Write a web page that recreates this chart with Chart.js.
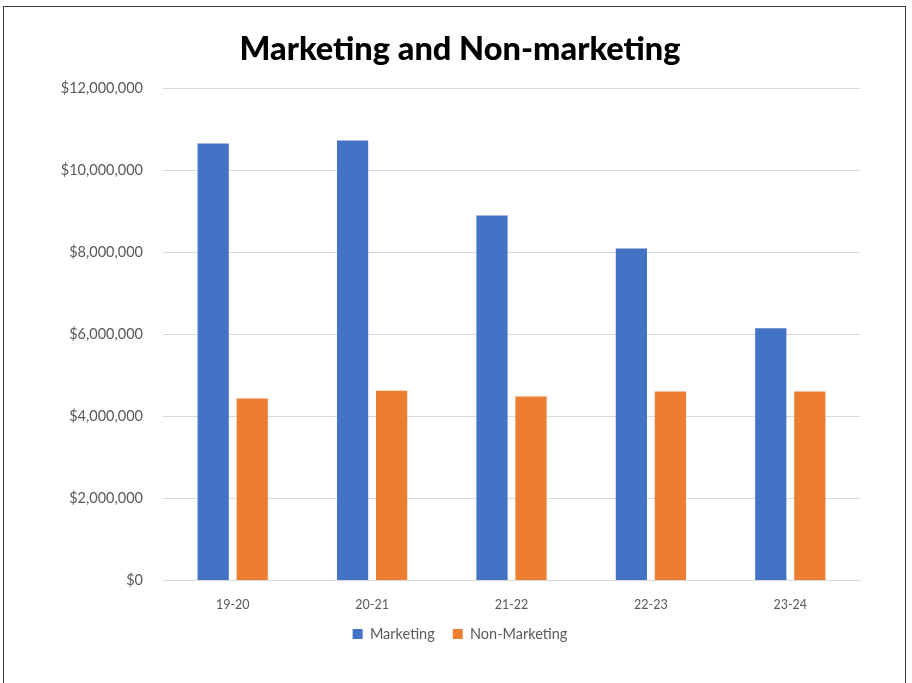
<!DOCTYPE html>
<html>
<head>
<meta charset="utf-8">
<script src="https://cdn.jsdelivr.net/npm/chart.js@4/dist/chart.umd.min.js"></script>
<style>
  html, body { margin: 0; padding: 0; background: #ffffff; }
  #wrap { position: relative; width: 912px; height: 683px; overflow: hidden; }
  #frame { position: absolute; left: 3px; top: 6px; width: 903px; height: 700px; border: 1.5px solid #3a3a3a; box-sizing: border-box; }
  canvas { position: absolute; left: 0; top: 0; }
</style>
</head>
<body>
<div id="wrap">
  <div id="frame"></div>
  <canvas id="c" width="912" height="683"></canvas>
</div>
<script>
const categories = ["19-20", "20-21", "21-22", "22-23", "23-24"];
const marketing = [10660000, 10730000, 8900000, 8100000, 6150000];
const nonMarketing = [4440000, 4630000, 4490000, 4610000, 4610000];
const yTicks = [0, 2000000, 4000000, 6000000, 8000000, 10000000, 12000000];
const titleText = "Marketing and Non-marketing";
const seriesNames = ["Marketing", "Non-Marketing"];

const textColor = "#595959";
const fontFamily = "Lato, 'Open Sans', sans-serif";
const legendFontSize = 14.5;
const legendCenterY = 634;

// Place the legend row at the reference's vertical position.
const legendPlacer = {
  id: "legendPlacer",
  afterLayout(chart) {
    const lg = chart.legend;
    if (!lg) return;
    const pad = lg.options.labels.padding;
    const itemH = Math.max(legendFontSize, lg.options.labels.boxHeight);
    const current = lg.top + pad + itemH / 2;
    const d = legendCenterY - current;
    lg.top += d;
    lg.bottom += d;
  }
};

new Chart(document.getElementById("c"), {
  type: "bar",
  data: {
    labels: categories,
    datasets: [
      { label: seriesNames[0], data: marketing, backgroundColor: "#4472C4", borderWidth: 0 },
      { label: seriesNames[1], data: nonMarketing, backgroundColor: "#ED7D31", borderWidth: 0 }
    ]
  },
  plugins: [legendPlacer],
  options: {
    responsive: false,
    animation: false,
    devicePixelRatio: 1,
    categoryPercentage: 0.56,
    barPercentage: 0.8,
    layout: { padding: { left: 60, right: 52, top: 0, bottom: 11 } },
    plugins: {
      title: {
        display: true,
        text: titleText,
        color: "#000000",
        font: { family: fontFamily, size: 32.5, weight: "900" },
        padding: { top: 30, bottom: 19.5 }
      },
      legend: {
        position: "bottom",
        labels: {
          color: textColor,
          font: { family: fontFamily, size: legendFontSize },
          boxWidth: 10,
          boxHeight: 10,
          padding: 18
        }
      },
      tooltip: { enabled: false }
    },
    scales: {
      x: {
        grid: { display: false, drawTicks: false },
        border: { display: true, color: "#d9d9d9", width: 1 },
        ticks: { color: textColor, font: { family: fontFamily, size: 12.5 }, padding: 17 }
      },
      y: {
        min: 0,
        max: 12000000,
        afterFit: (s) => { s.width = 103; },
        afterBuildTicks: (s) => { s.ticks = yTicks.map(v => ({ value: v })); },
        grid: { color: "#d9d9d9", drawTicks: false },
        border: { display: false },
        ticks: {
          color: textColor,
          font: { family: fontFamily, size: 14.5 },
          padding: 20,
          callback: (v) => "$" + Number(v).toLocaleString("en-US")
        }
      }
    }
  }
});
</script>
</body>
</html>
